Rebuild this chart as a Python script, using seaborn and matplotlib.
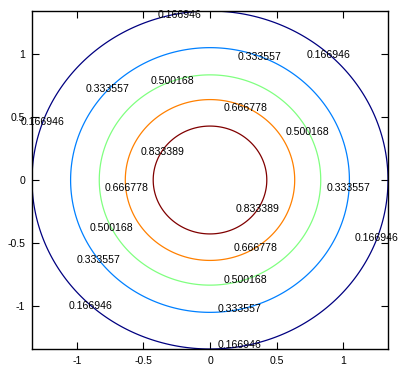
import numpy as np
import matplotlib
matplotlib.use("Agg")
import matplotlib.pyplot as plt
import seaborn as sns

# contour levels (as printed) and line colours
levels = [0.166946, 0.333557, 0.500168, 0.666778, 0.833389]
level_colors = ["#000080", "#0080ff", "#80ff80", "#ff8000", "#800000"]

# contour label positions (data coords) and which level each belongs to
label_level_idx = [0, 0, 1, 1, 2, 0, 3, 2, 4, 3, 1, 4, 2, 0, 3, 1, 2, 0, 1, 0]
label_x = [-0.23, 0.89, 0.37, -0.77, -0.28, -1.26, 0.27, 0.73, -0.36, -0.63,
           1.04, 0.36, -0.74, 1.25, 0.34, -0.84, 0.27, -0.90, 0.22, 0.22]
label_y = [1.31, 0.99, 0.97, 0.72, 0.78, 0.46, 0.57, 0.38, 0.22, -0.06,
           -0.06, -0.23, -0.38, -0.46, -0.54, -0.63, -0.79, -1.00, -1.02, -1.31]

x_ticks = [-1, -0.5, 0, 0.5, 1]
x_tick_labels = ["-1", "-0.5", "0", "0.5", "1"]
y_ticks = [-1, -0.5, 0, 0.5, 1]
y_tick_labels = ["-1", "-0.5", "0", "0.5", "1"]

# surface: gaussian exp(-(x^2+y^2)) on [-2,2]^2
grid = np.linspace(-2, 2, 801)
X, Y = np.meshgrid(grid, grid)
Z = np.exp(-(X ** 2 + Y ** 2))

sns.set_style("ticks")
plt.rcParams["font.family"] = ["Liberation Sans", "DejaVu Sans"]

fig = plt.figure(figsize=(4.09, 3.76), dpi=100)
ax = fig.add_axes([32 / 409, 27 / 376, 356 / 409, 338 / 376])

ax.contour(X, Y, Z, levels=levels, colors=level_colors, linewidths=0.9)

for i, lx, ly in zip(label_level_idx, label_x, label_y):
    ax.text(lx, ly, f"{levels[i]:.6f}", ha="center", va="center",
            fontsize=7.6, color="black")

lim = 1.338
ax.set_xlim(-lim, lim)
ax.set_ylim(-lim, lim)
ax.set_xticks(x_ticks)
ax.set_xticklabels(x_tick_labels)
ax.set_yticks(y_ticks)
ax.set_yticklabels(y_tick_labels)
ax.tick_params(direction="in", top=True, right=True, length=5, width=0.8,
               labelsize=7.6, pad=5, colors="black")
for s in ax.spines.values():
    s.set_linewidth(1.0)
    s.set_color("black")
    s.set_visible(True)

fig.savefig("out.png", dpi=100)
